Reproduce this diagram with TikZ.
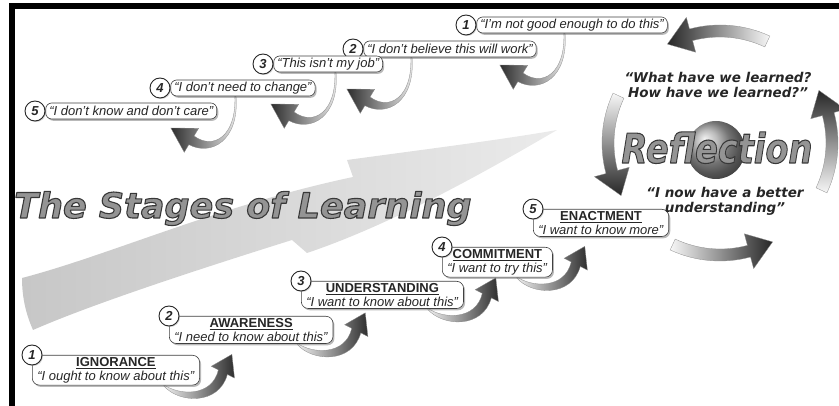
\documentclass[tikz,border=0pt]{standalone}
\usepackage{fontspec}
\setmainfont{Liberation Sans}
\newfontfamily\wideface{DejaVu Sans}
\usetikzlibrary{positioning,shadows,backgrounds,calc}
\newcommand\outlined[1]{\special{pdf:literal direct 2 Tr 1.1 w 0.22 G}#1\special{pdf:literal direct 0 Tr}}
\begin{document}
\begin{tikzpicture}[x=1pt,y=-1pt,line join=round,line cap=round,
	font=\fontsize{13}{14}\selectfont,text=black!85,
	numdot/.style={circle,draw=black!85,line width=.9pt,fill=white,minimum size=20pt,inner sep=0pt,
		font=\fontsize{13}{13}\selectfont\bfseries\itshape,
		drop shadow={shadow xshift=1pt,shadow yshift=-1pt,fill=black!40}},
	negbox/.style={draw=black!75,line width=.6pt,fill=white,rounded corners=6pt,
		minimum height=16pt,inner xsep=3.5pt,inner ysep=1pt,font=\fontsize{13}{13}\selectfont\itshape,
		drop shadow={shadow xshift=1.5pt,shadow yshift=-1.8pt,fill=black!55}},
	posbox/.style={draw=black!75,line width=.6pt,fill=white,rounded corners=7pt,align=center,
		inner xsep=5pt,inner ysep=2pt,
		drop shadow={shadow xshift=1.5pt,shadow yshift=-1.8pt,fill=black!55}},
	arr/.style={draw=black!45,line width=.3pt},
	bigword/.style={inner sep=0pt,text=black!42,font=\wideface\bfseries\itshape\fontsize{35}{35}\selectfont}]
	\useasboundingbox (0,0) rectangle (839,406);
	\fill[black] (9,3) rectangle (839,9);
	\fill[black] (9,3) rectangle (15,406);
	\begin{scope}[on background layer]
		\shade[left color=black!22,right color=black!8]
		(22,278) .. controls (110,255) and (220,205) .. (353,177) -- (347,160)
		.. controls (420,150) and (500,140) .. (557,130)
		.. controls (480,175) and (390,225) .. (307,253) -- (292,240)
		.. controls (190,272) and (90,305) .. (33,330)
		.. controls (25,312) and (22,295) .. (22,278) -- cycle;
	\end{scope}
	\node[bigword,anchor=base west] (title) at (14,218) {\outlined{The Stages of Learning}};
	\foreach \k/\x/\y/\q in {1/466/25/{“I’m not good enough to do this”},
		2/353/49/{“I don’t believe this will work”},
		3/263/64/{“This isn’t my job”},
		4/160/88/{“I don’t need to change”},
		5/35/111/{“I don’t know and don’t care”}}{
		\node[numdot] (n\k) at (\x,\y) {\k};
		\node[negbox,right=0pt of n\k] (q\k) {\q};
	}
	\begin{scope}[on background layer]
		\foreach \k/\dx in {1/88,2/48,3/62,4/65}
			\shade[arr,left color=black!82,right color=black!6,shift={($(q\k.south west)+(\dx,0)$)}]
			(.6,0) .. controls (4,45) and (-25,60) .. (-46.6,48.3) -- (-51.2,56) -- (-64.6,31.7)
			-- (-36.8,32) -- (-41.4,39.7) .. controls (-22,54) and (1,40) .. (-.6,0) -- cycle;
	\end{scope}
	\foreach \k/\x/\y/\t/\q in {1/32/355/IGNORANCE/{“I ought to know about this”},
		2/169/316/AWARENESS/{“I need to know about this”},
		3/301/281/UNDERSTANDING/{“I want to know about this”},
		4/442/247/COMMITMENT/{“I want to try this”},
		5/533/209/ENACTMENT/{“I want to know more”}}{
		\node[posbox,anchor=north west] (s\k) at (\x,\y) {\underline{\textbf{\t}}\\\textit{\q}};
		\node[numdot] (p\k) at (s\k.north west) {\k};
	}
	\begin{scope}[on background layer]
		\foreach \k in {1,...,4}
			\shade[arr,left color=black!6,right color=black!82,shift={($(s\k.south east)+(-36,0)$)}]
			(0,.6) .. controls (15,18) and (55,20) .. (63.5,-10.95) -- (70.6,-7.3) -- (68,-31)
			-- (47.4,-19.1) -- (54.5,-15.45) .. controls (48,12) and (15,10) .. (0,-.6) -- cycle;
	\end{scope}
	\coordinate (cyc) at (720,143);
	\shade[ball color=black!35] (716,150) circle (29);
	\node[bigword,anchor=base,font=\wideface\bfseries\itshape\fontsize{41}{41}\selectfont,xscale=.82] (refl) at (717,163) {\outlined{Reflection}};
	\node[font=\wideface\bfseries\itshape\fontsize{13.5}{15}\selectfont,align=center] (ask) at (718,85) {“What have we learned?\\How have we learned?”};
	\node[font=\wideface\bfseries\itshape\fontsize{13.5}{15}\selectfont,align=center] (know) at (725,201) {“I now have a better\\understanding”};
	\begin{scope}[shift={(cyc)}]
		\foreach \a [evaluate=\a as \sa using \a-155] in {65,155,245,335}
			\shade[arr,top color=black!3,bottom color=black!85,shading angle=\sa]
			({-\a}:106) arc[start angle={-\a},end angle={-\a-40},radius=106]
			-- ({-\a-40}:94) -- ({-\a-53}:112) -- ({-\a-40}:130) -- ({-\a-40}:118)
			arc[start angle={-\a-40},end angle={-\a},radius=118] -- cycle;
	\end{scope}
\end{tikzpicture}
\end{document}
